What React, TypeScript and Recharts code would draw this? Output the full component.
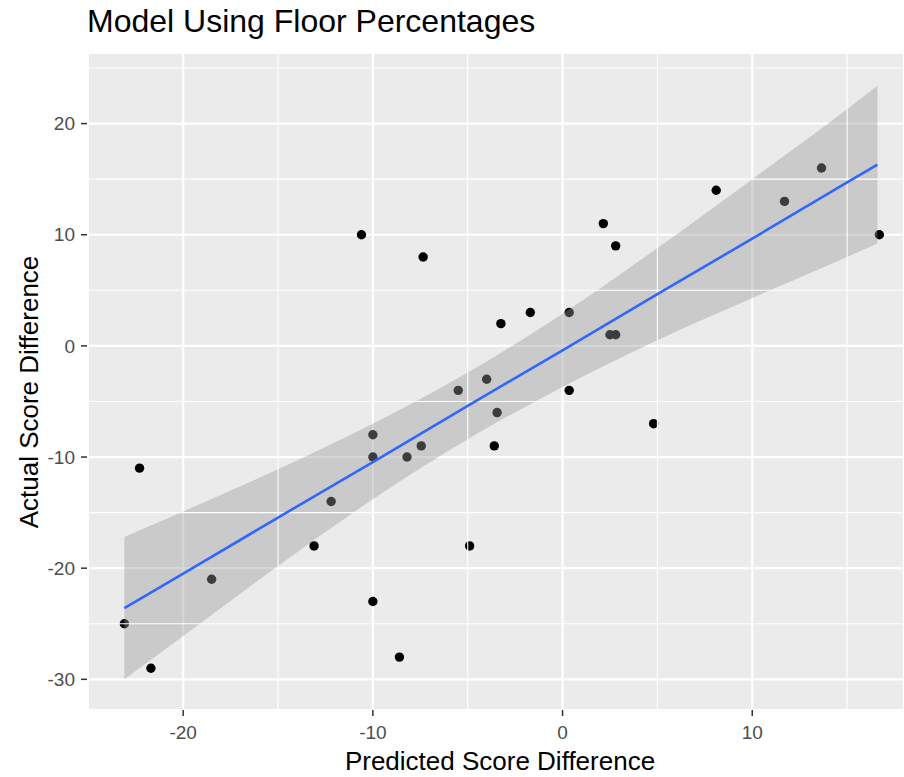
import React from 'react';
import { ComposedChart, Scatter, Area, Line, XAxis, YAxis, CartesianGrid, ReferenceLine } from 'recharts';

// observed games
const predicted = [
  -23.1, -22.3, -21.7, -18.5, -13.1, -12.2, -10.6, -10.0, -10.0, -10.0, -8.6, -8.2, -7.45, -7.35, -5.5, -4.9,
  -4.0, -3.6, -3.45, -3.25, -1.7, 0.35, 0.35, 2.15, 2.5, 2.8, 2.8, 4.8, 8.1, 11.7, 13.65, 16.7,
];
const actual = [
  -25, -11, -29, -21, -18, -14, 10, -8, -10, -23, -28, -10, -9, 8, -4, -18,
  -3, -9, -6, 2, 3, 3, -4, 11, 1, 1, 9, -7, 14, 13, 16, 10,
];

// lm fit + 95% band
const fitX = [-23.1, -20, -15, -10, -5, 0, 5, 10, 15, 16.6];
const fitY = [-23.6, -20.5, -15.45, -10.45, -5.4, -0.4, 4.65, 9.65, 14.7, 16.3];
const bandLow = [-30.0, -26.1, -19.8, -13.8, -8.4, -3.7, 0.5, 4.3, 8.0, 9.2];
const bandHigh = [-17.2, -14.9, -11.1, -7.0, -2.4, 2.9, 8.8, 15.0, 21.3, 23.4];

const xTicks = [-20, -10, 0, 10];
const yTicks = [-30, -20, -10, 0, 10, 20];
const xMinor = [-25, -15, -5, 5, 15];
const yMinor = [-25, -15, -5, 5, 15, 25];

const points = predicted.map((x, i) => ({ x, y: actual[i] }));
const fit = fitX.map((x, i) => ({ x, fit: fitY[i], band: [bandLow[i], bandHigh[i]] }));

const font = '"Liberation Sans", Arial, sans-serif';
const tickStyle = { fill: '#4D4D4D', fontSize: 19, fontFamily: font };

export default function App() {
  return (
    <div style={{ position: 'absolute', left: 0, top: 0, width: 904, height: 777, background: '#fff', fontFamily: font }}>
      <div style={{ position: 'absolute', left: 87, top: 3, fontSize: 32, color: '#000', whiteSpace: 'nowrap' }}>
        Model Using Floor Percentages
      </div>
      <ComposedChart width={904} height={777} data={fit} margin={{ top: 53, right: 0, left: 27, bottom: 27 }}>
        <CartesianGrid fill="#EBEBEB" fillOpacity={1} stroke="#FFFFFF" strokeWidth={2.2} />
        {xMinor.map((v) => (
          <ReferenceLine key={'vx' + v} x={v} stroke="#FFFFFF" strokeWidth={1.1} />
        ))}
        {yMinor.map((v) => (
          <ReferenceLine key={'hy' + v} y={v} stroke="#FFFFFF" strokeWidth={1.1} />
        ))}
        <XAxis
          type="number"
          dataKey="x"
          domain={[-25.07, 18.0]}
          allowDataOverflow
          ticks={xTicks}
          height={40}
          axisLine={false}
          tickLine={{ stroke: '#333333', strokeWidth: 1.5 }}
          tickSize={6}
          tickMargin={10}
          tick={tickStyle}
        />
        <YAxis
          type="number"
          domain={[-32.76, 26.35]}
          allowDataOverflow
          ticks={yTicks}
          width={60}
          axisLine={false}
          tickLine={{ stroke: '#333333', strokeWidth: 1.5 }}
          tickSize={6}
          tickMargin={6}
          tick={tickStyle}
        />
        <Scatter
          data={points}
          dataKey="y"
          zIndex={50}
          isAnimationActive={false}
          shape={(p: any) => <circle cx={p.cx} cy={p.cy} r={4.7} fill="#000000" />}
        />
        <Area
          dataKey="band"
          type="monotone"
          stroke="none"
          fill="#999999"
          fillOpacity={0.4}
          zIndex={100}
          isAnimationActive={false}
        />
        <Line dataKey="fit" type="linear" stroke="#3366FF" strokeWidth={2.6} dot={false} zIndex={400} isAnimationActive={false} />
      </ComposedChart>
      <div style={{ position: 'absolute', left: 500, top: 746, transform: 'translateX(-50%)', fontSize: 26, color: '#000', whiteSpace: 'nowrap' }}>
        Predicted Score Difference
      </div>
      <div
        style={{
          position: 'absolute',
          left: 29,
          top: 392,
          transform: 'translate(-50%, -50%) rotate(-90deg)',
          fontSize: 26,
          color: '#000',
          whiteSpace: 'nowrap',
        }}
      >
        Actual Score Difference
      </div>
    </div>
  );
}
